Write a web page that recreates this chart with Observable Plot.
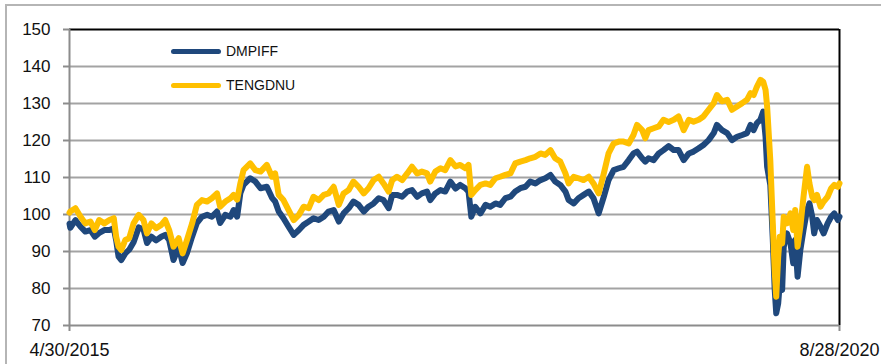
<!DOCTYPE html>
<html>
<head>
<meta charset="utf-8">
<script src="https://cdn.jsdelivr.net/npm/d3@7"></script>
<script src="https://cdn.jsdelivr.net/npm/@observablehq/plot@0.6"></script>
<style>
  html, body { margin: 0; padding: 0; background: #fff; }
  #wrap { position: relative; width: 881px; height: 364px; overflow: hidden; font-family: "Liberation Sans", Arial, sans-serif; }
  #frame { position: absolute; left: 5px; top: 4px; width: 900px; height: 400px; border: 2px solid #b5b5b5; box-sizing: border-box; }
  #chart { position: absolute; left: 0; top: 0; }
  .leg { position: absolute; display: flex; align-items: center; font-size: 14px; color: #111; }
  .leg .sw { width: 50px; height: 5px; border-radius: 3px; margin-right: 5px; }
</style>
</head>
<body>
<div id="wrap">
  <div id="frame"></div>
  <div id="chart"></div>
</div>
<script>
const seriesNames = ["DMPIFF", "TENGDNU"];
const seriesColors = ["#1f487c", "#ffc000"];
const xTickLabels = ["2015-04-30", "2020-08-28"];
const yTicks = [70, 80, 90, 100, 110, 120, 130, 140, 150];

const dates = [
"2015-04-30","2015-05-02","2015-05-15","2015-05-28","2015-06-09","2015-06-22","2015-07-03","2015-07-14","2015-07-27","2015-08-09",
"2015-08-20","2015-08-26","2015-09-01","2015-09-08","2015-09-18","2015-09-28","2015-10-09","2015-10-22","2015-11-03","2015-11-12",
"2015-11-23","2015-12-05","2015-12-18","2015-12-28","2016-01-07","2016-01-18","2016-01-31","2016-02-10","2016-02-21","2016-03-05",
"2016-03-17","2016-03-30","2016-04-12","2016-04-24","2016-05-07","2016-05-15","2016-05-28","2016-06-10","2016-06-18","2016-06-27",
"2016-07-05","2016-07-13","2016-07-30","2016-08-12","2016-08-25","2016-09-10","2016-09-23","2016-10-01","2016-10-10","2016-10-22",
"2016-11-04","2016-11-17","2016-11-30","2016-12-12","2016-12-25","2017-01-06","2017-01-19","2017-02-01","2017-02-13","2017-02-26",
"2017-03-11","2017-03-23","2017-04-05","2017-04-17","2017-04-30","2017-05-13","2017-05-25","2017-06-07","2017-06-20","2017-07-02",
"2017-07-15","2017-07-24","2017-08-05","2017-08-18","2017-08-31","2017-09-12","2017-09-25","2017-10-07","2017-10-20","2017-10-28",
"2017-11-10","2017-11-23","2017-12-05","2017-12-18","2017-12-31","2018-01-12","2018-01-25","2018-02-02","2018-02-09","2018-02-19",
"2018-03-04","2018-03-17","2018-03-29","2018-04-11","2018-04-23","2018-05-06","2018-05-19","2018-05-31","2018-06-13","2018-06-26",
"2018-07-08","2018-07-21","2018-08-03","2018-08-15","2018-08-28","2018-09-09","2018-09-22","2018-10-05","2018-10-13","2018-10-26",
"2018-11-07","2018-11-20","2018-12-03","2018-12-15","2018-12-28","2019-01-10","2019-01-22","2019-02-04","2019-02-17","2019-03-01",
"2019-03-14","2019-03-26","2019-04-04","2019-04-17","2019-04-25","2019-05-03","2019-05-16","2019-05-29","2019-06-10","2019-06-23",
"2019-07-06","2019-07-18","2019-07-31","2019-08-13","2019-08-25","2019-09-07","2019-09-19","2019-10-02","2019-10-15","2019-10-23",
"2019-11-05","2019-11-18","2019-11-30","2019-12-13","2019-12-26","2020-01-07","2020-01-16","2020-01-24","2020-02-01","2020-02-10",
"2020-02-17","2020-02-23","2020-02-27","2020-03-06","2020-03-12","2020-03-17","2020-03-21","2020-03-26","2020-03-30","2020-04-05",
"2020-04-09","2020-04-17","2020-04-26","2020-05-03","2020-05-08","2020-05-14","2020-05-21","2020-05-29","2020-06-07","2020-06-13",
"2020-06-20","2020-06-25","2020-07-02","2020-07-11","2020-07-19","2020-07-29","2020-08-07","2020-08-15","2020-08-24","2020-08-28"
];

const dmpiff = [
97.5,96.4,98.5,96.7,95.4,95.8,94.0,95.0,95.8,95.8,
96.3,93.0,88.6,87.7,89.5,90.5,92.5,96.5,96.0,92.3,
94.0,93.0,94.0,94.5,93.1,87.7,91.3,86.9,89.6,94.0,
97.7,99.4,99.9,99.4,100.8,97.7,99.9,99.4,101.2,99.4,
105.8,108.0,109.8,108.9,107.1,107.5,104.5,103.5,100.8,99.0,
96.7,94.5,95.8,97.2,98.1,99.0,98.5,99.4,100.8,101.2,
98.1,100.3,101.7,103.5,102.6,100.8,102.1,103.0,104.4,103.9,
101.7,105.3,105.3,104.8,106.2,106.6,104.8,105.7,106.2,103.9,
105.7,106.6,106.2,108.9,107.0,108.0,107.1,106.2,99.4,102.1,
100.3,102.6,102.1,103.0,102.6,104.4,104.8,106.2,107.1,107.5,
108.9,108.4,109.3,109.8,110.7,108.9,108.0,106.2,103.9,103.0,
104.4,105.3,106.2,104.4,100.3,104.8,109.3,112.0,112.5,112.9,
114.7,116.5,117.0,115.2,114.3,115.2,114.7,116.5,117.4,118.5,
117.4,117.4,114.7,116.5,117.0,117.9,118.8,120.1,122.0,124.2,
122.8,122.0,120.1,121.0,121.5,122.0,124.2,122.8,124.7,125.6,
127.8,121.0,112.9,108.0,94.0,80.0,73.3,76.0,81.4,79.6,
91.3,94.9,92.2,86.8,93.1,83.2,90.4,95.8,101.2,103.0,
99.4,94.9,98.5,96.7,94.9,97.6,99.4,100.3,98.5,99.4
];

const tengdnu = [
100.5,100.8,101.7,99.4,97.6,98.1,95.8,98.5,97.6,98.5,
99.0,94.0,91.3,90.4,93.1,93.6,97.6,99.9,98.5,94.9,
97.6,96.3,97.2,98.5,95.8,91.3,93.6,89.5,93.1,97.6,
102.6,103.9,103.5,104.4,105.7,102.1,103.5,104.4,105.3,104.0,
108.4,112.0,113.8,112.0,111.6,113.4,110.2,111.1,105.3,103.9,
101.2,98.5,99.9,102.1,101.7,104.8,103.9,105.3,105.7,107.5,
102.6,105.7,106.6,108.9,107.5,105.7,107.1,109.3,110.2,108.4,
106.2,109.3,110.2,109.3,111.1,112.9,111.1,111.6,111.1,108.9,
111.6,112.5,112.0,114.7,113.0,113.4,112.5,113.4,105.3,106.6,
108.0,108.4,108.0,109.8,110.2,110.7,111.1,113.8,114.3,114.7,
115.2,115.6,116.5,116.1,117.4,115.2,114.3,111.1,108.4,110.2,
109.8,109.3,110.2,108.4,105.7,111.1,116.5,119.2,119.7,119.7,
119.2,121.5,124.2,122.8,120.6,122.8,123.3,123.8,125.6,125.0,
125.6,126.5,122.8,125.6,125.1,125.6,126.5,128.3,130.1,132.3,
130.6,131.0,128.3,129.2,130.1,131.0,132.8,132.3,134.5,136.4,
135.9,133.7,129.2,114.7,98.5,85.0,77.8,88.6,94.0,92.2,
99.4,97.6,100.3,95.8,101.2,91.3,96.7,104.8,112.9,108.4,
104.8,103.9,105.3,102.1,103.5,104.8,107.1,108.0,107.5,108.4
];

const parse = d3.utcParse("%Y-%m-%d");
const rows = [];
seriesNames.forEach((name, s) => {
  const vals = s === 0 ? dmpiff : tengdnu;
  dates.forEach((d, i) => rows.push({date: parse(d), value: vals[i], series: name}));
});
const xDomain = xTickLabels.map(parse);
const fmt = d3.utcFormat("%-m/%-d/%Y");
const gridTicks = yTicks.slice(1, -1);

const chart = Plot.plot({
  width: 881,
  height: 364,
  marginLeft: 69,
  marginRight: 42,
  marginTop: 29,
  marginBottom: 39,
  style: {fontFamily: "'Liberation Sans', Arial, sans-serif", background: "transparent", color: "#111", overflow: "visible"},
  x: {type: "utc", domain: xDomain},
  y: {domain: [70, 150]},
  color: {domain: seriesNames, range: seriesColors},
  marks: [
    Plot.ruleY(gridTicks, {stroke: "#a3a3a3", strokeWidth: 1.8}),
    Plot.ruleY([yTicks[yTicks.length - 1]], {stroke: "#000", strokeWidth: 2}),
    Plot.ruleX([xDomain[1]], {stroke: "#000", strokeWidth: 2}),
    Plot.ruleX([xDomain[0]], {stroke: "#8c8c8c", strokeWidth: 2}),
    Plot.ruleY([yTicks[0]], {stroke: "#8c8c8c", strokeWidth: 2}),
    Plot.axisY({ticks: yTicks, tickSize: 6, tickPadding: 13, stroke: "#8c8c8c", strokeWidth: 2, fill: "#111", fontSize: 17, label: null}),
    Plot.axisX({ticks: xDomain, tickSize: 6, tickPadding: 12, stroke: "#8c8c8c", strokeWidth: 2, fill: "#111", fontSize: 18, tickFormat: fmt, label: null}),
    Plot.line(rows, {x: "date", y: "value", z: "series", stroke: "series", strokeWidth: 6, strokeLinejoin: "round", strokeLinecap: "round"})
  ]
});
document.getElementById("chart").appendChild(chart);

// legend (HTML overlay)
const wrap = document.getElementById("wrap");
const legTops = [43, 77];
seriesNames.forEach((name, i) => {
  const el = document.createElement("div");
  el.className = "leg";
  el.style.left = "171px";
  el.style.top = legTops[i] + "px";
  const sw = document.createElement("div");
  sw.className = "sw";
  sw.style.background = seriesColors[i];
  const t = document.createElement("span");
  t.textContent = name;
  el.appendChild(sw);
  el.appendChild(t);
  wrap.appendChild(el);
});
</script>
</body>
</html>
